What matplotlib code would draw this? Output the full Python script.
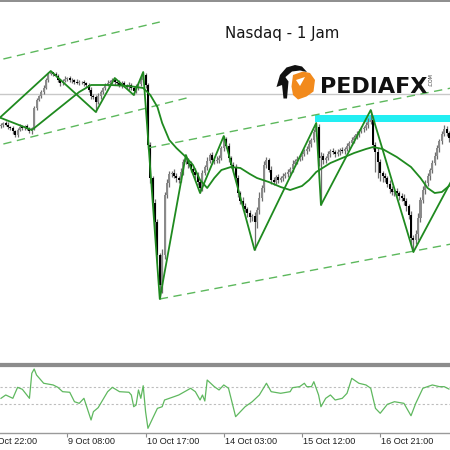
import numpy as np
import matplotlib
matplotlib.use("Agg")
import matplotlib.pyplot as plt
from matplotlib.patches import Polygon

# hourly Nasdaq closes, one per bar
closes = [24885, 24895, 24885, 24875, 24870, 24855, 24835, 24860, 24875, 24870,
          24880, 24865, 24855, 24870, 24970, 25010, 25030, 25050, 25070, 25110,
          25140, 25150, 25140, 25130, 25110, 25095, 25105, 25115, 25120, 25110,
          25110, 25100, 25095, 25100, 25100, 25095, 25085, 25060, 25030, 25025,
          25000, 25030, 25050, 25070, 25085, 25095, 25100, 25110, 25100, 25095,
          25085, 25095, 25085, 25075, 25085, 25070, 25055, 25075, 25090, 25110,
          25135, 25085, 24785, 24620, 24495, 24400, 24235, 24085, 24235, 24535,
          24595, 24640, 24645, 24630, 24620, 24610, 24650, 24700, 24710, 24690,
          24665, 24650, 24635, 24600, 24570, 24645, 24675, 24705, 24735, 24710,
          24705, 24710, 24720, 24770, 24815, 24780, 24720, 24685, 24670, 24620,
          24545, 24505, 24480, 24465, 24445, 24425, 24430, 24400, 24460, 24520,
          24570, 24685, 24710, 24660, 24610, 24600, 24625, 24610, 24620, 24630,
          24640, 24650, 24665, 24690, 24705, 24715, 24725, 24740, 24755, 24765,
          24790, 24810, 24850, 24875, 24720, 24730, 24710, 24720, 24740, 24755,
          24750, 24740, 24750, 24760, 24755, 24765, 24780, 24795, 24810, 24825,
          24840, 24855, 24865, 24870, 24885, 24900, 24910, 24785, 24750, 24700,
          24645, 24630, 24620, 24590, 24565, 24550, 24555, 24545, 24530, 24520,
          24505, 24480, 24435, 24320, 24310, 24340, 24420, 24510, 24560, 24595,
          24630, 24660, 24695, 24730, 24770, 24805, 24840, 24865, 24845, 24820]
first_open = 24880

wick_up = [10, 5, 10, 15, 5, 10, 5, 10, 15, 10, 5, 10, 10, 5, 10, 10, 5, 10, 15, 10,
           10, 5, 0, 10, 10, 5, 10, 15, 5, 10, 10, 5, 15, 10, 5, 10, 5, 10, 15, 10,
           10, 15, 10, 5, 10, 15, 10, 10, 10, 5, 15, 10, 10, 5, 15, 10, 10, 15, 10, 15,
           15, 10, 10, 15, 10, 20, 15, 10, 30, 15, 20, 15, 10, 20, 15, 10, 20, 15, 25, 10,
           15, 10, 20, 15, 10, 15, 10, 20, 10, 15, 10, 20, 15, 10, 15, 10, 15, 10, 15, 20,
           15, 10, 20, 15, 10, 15, 10, 20, 15, 30, 15, 20, 15, 10, 20, 15, 10, 15, 10, 15,
           10, 15, 10, 20, 10, 15, 10, 15, 10, 15, 20, 10, 15, 20, 15, 20, 15, 10, 15, 10,
           15, 10, 15, 10, 15, 10, 15, 10, 15, 10, 15, 10, 15, 10, 15, 20, 50, 20, 15, 20,
           15, 10, 15, 10, 20, 15, 10, 15, 10, 15, 20, 15, 10, 20, 15, 20, 25, 15, 20, 15,
           15, 10, 15, 20, 15, 10, 15, 20, 15, 10]
wick_dn = [10, 10, 5, 10, 10, 15, 10, 10, 5, 10, 10, 5, 10, 15, 10, 10, 5, 10, 10, 5,
           10, 5, 10, 5, 10, 15, 10, 5, 10, 10, 15, 10, 5, 10, 10, 15, 10, 10, 15, 10,
           50, 10, 15, 10, 10, 5, 10, 10, 15, 10, 10, 15, 10, 10, 15, 10, 20, 10, 15, 10,
           10, 15, 20, 25, 15, 60, 40, 70, 40, 20, 15, 20, 15, 10, 20, 15, 10, 15, 10, 20,
           15, 10, 20, 15, 25, 15, 10, 15, 10, 20, 15, 10, 15, 10, 15, 10, 20, 15, 20, 15,
           20, 15, 20, 15, 20, 25, 20, 140, 30, 20, 15, 20, 15, 10, 20, 15, 10, 15, 10, 15,
           10, 15, 10, 15, 10, 15, 10, 15, 10, 15, 10, 15, 10, 20, 40, 235, 20, 15, 10, 15,
           10, 15, 10, 15, 10, 15, 10, 15, 10, 15, 10, 15, 10, 15, 10, 15, 10, 20, 100, 80,
           40, 30, 20, 15, 20, 15, 20, 15, 20, 15, 20, 25, 20, 40, 60, 20, 30, 20, 15, 20,
           15, 20, 15, 10, 15, 20, 15, 10, 15, 20]

# zigzag swing points (bar, price)
zz_bars = [-8, 21, 40, 48, 56, 60, 67, 78, 84, 94, 107, 133, 135, 156, 174, 190]
zz_price = [24840, 25155, 24950, 25120, 25035, 25150, 24015, 24735, 24545, 24830,
            24260, 24895, 24485, 24960, 24250, 24605]

# smooth average line
ma_bars = [0, 13, 33, 38, 46, 54, 60, 63, 66, 68, 71, 74, 78, 81, 84, 87, 90, 93, 97,
           101, 105, 108, 113, 118, 122, 127, 130, 133, 139, 145, 149, 154, 157, 161,
           167, 173, 177, 180, 183, 186, 189]
ma_price = [24920, 24860, 25050, 25085, 25085, 25080, 25070, 25035, 24975, 24895, 24810,
            24770, 24725, 24685, 24610, 24570, 24620, 24660, 24675, 24670, 24640, 24620,
            24600, 24575, 24560, 24580, 24610, 24650, 24695, 24725, 24745, 24765, 24775,
            24765, 24725, 24675, 24620, 24570, 24545, 24550, 24580]

# trend channel lines (start/end bar, start/end price)
chan_bars = [[1, 67], [1, 80], [62, 190], [67, 190]]
chan_price = [[25215, 25400], [24790, 25025], [24770, 25070], [24015, 24290]]

level_price = 25040
zone_start = 133
zone_lo, zone_hi = 24900, 24935

# CCI sub window
cci_bars = [0, 2, 5, 7, 9, 12, 13, 14, 15, 18, 22, 24, 26, 29, 31, 33, 35, 38, 39, 41,
            45, 47, 50, 54, 55, 56, 57, 58, 59, 60, 61, 62, 64, 66, 68, 69, 73, 75, 78,
            80, 82, 84, 85, 86, 87, 90, 92, 94, 96, 99, 103, 106, 109, 112, 114, 118,
            122, 123, 126, 128, 129, 131, 132, 134, 135, 137, 139, 141, 144, 146, 148,
            151, 154, 156, 158, 160, 163, 166, 170, 173, 175, 178, 182, 185, 187, 189]
cci_vals = [-33, 6, -33, 96, 73, -33, 261, 312, 241, 144, 124, 96, 45, 38, -73, -92, -33,
            -288, -190, -143, 45, 96, 45, 38, 6, -132, -112, 65, -33, 115, -190, -386,
            -268, -151, -132, -53, -14, 6, 53, 85, 45, -53, 6, -65, 182, 104, 65, 124,
            85, -249, -132, -73, 6, 144, 45, 26, 45, 92, 104, 144, 104, 104, 162, 6,
            -132, -33, 6, -53, -33, 26, 202, 144, 124, 85, -151, -209, -104, -73, -92,
            -238, -92, 85, 124, 104, 104, 76]
cci_levels = [100, -100]

tick_bars = [-5, 28, 61, 94, 127, 160]
tick_labels = ["8 Oct 22:00", "9 Oct 08:00", "10 Oct 17:00", "14 Oct 03:00",
               "15 Oct 12:00", "16 Oct 21:00"]

GREEN = "#1f8a1f"
LIGHT_GREEN = "#5cb85c"

fig = plt.figure(figsize=(4.5, 4.5), dpi=100)
fig.patch.set_facecolor("white")

# main price window
ax = fig.add_axes([0, 1 - 364 / 450, 1, 363 / 450])
ax.set_xlim(-0.42, 189.45)
ax.set_ylim(23690, 25505)

x = np.arange(len(closes))
c = np.array(closes, dtype=float)
o = np.array([first_open] + closes[:-1], dtype=float)
hi = np.maximum(o, c) + np.array(wick_up)
lo = np.minimum(o, c) - np.array(wick_dn)

ax.axhline(level_price, color="#c8c8c8", lw=1, zorder=1)
ax.fill_between([zone_start - 0.5, 200], zone_lo, zone_hi, color="#22eef2", lw=0, zorder=1)

ax.vlines(x, lo, hi, color="#6e6e6e", lw=0.9, zorder=2)
up = c >= o
ax.bar(x[up], (c - o)[up], bottom=o[up], width=0.85, color="#8a8a8a", lw=0, zorder=2)
ax.bar(x[~up], (c - o)[~up], bottom=o[~up], width=0.85, color="#000000", lw=0, zorder=2)

for b, p in zip(chan_bars, chan_price):
    ax.plot(b, p, color=LIGHT_GREEN, lw=1, dashes=(6, 4), zorder=3)

ax.plot(ma_bars, ma_price, color=GREEN, lw=1.3, zorder=4)
ax.plot(zz_bars, zz_price, color=GREEN, lw=1.3, zorder=4)

ax.set_xticks([])
ax.set_yticks([])
for s in ["left", "right"]:
    ax.spines[s].set_visible(False)
ax.spines["top"].set_color("#7a7a7a")
ax.spines["top"].set_linewidth(1.2)
ax.spines["bottom"].set_color("#8c8c8c")
ax.spines["bottom"].set_linewidth(1.6)

# oscillator window
ax2 = fig.add_axes([0, 1 - 433 / 450, 1, 67 / 450])
ax2.set_xlim(-0.42, 189.45)
ax2.set_ylim(-441, 347)
for lv in cci_levels:
    ax2.axhline(lv, color="#bdbdbd", lw=0.8, ls=(0, (2, 2)))
ax2.plot(cci_bars, cci_vals, color="#5fb85f", lw=0.9)
ax2.set_yticks([])
ax2.set_xticks(tick_bars[1:])
ax2.set_xticklabels([])
ax2.tick_params(axis="x", length=3, width=0.8, color="#8c8c8c")
for s in ["left", "right"]:
    ax2.spines[s].set_visible(False)
ax2.spines["top"].set_color("#8c8c8c")
ax2.spines["top"].set_linewidth(1.6)
ax2.spines["bottom"].set_color("#9a9a9a")
ax2.spines["bottom"].set_linewidth(1)

for b, lab in zip(tick_bars, tick_labels):
    ax2.annotate(lab, xy=(b, 0), xycoords=ax2.get_xaxis_transform(),
                 xytext=(0.8, -2.8), textcoords="offset points",
                 ha="left", va="top", fontsize=6.6, family="Liberation Sans",
                 color="#202020", annotation_clip=False)

# overlay for title and logo (pixel coordinates)
ov = fig.add_axes([0, 0, 1, 1], zorder=10)
ov.set_xlim(0, 450)
ov.set_ylim(450, 0)
ov.axis("off")
ov.patch.set_alpha(0)

ov.text(225, 38, "Nasdaq - 1 Jam", fontsize=10.8, color="#151515", ha="left", va="baseline")

orange = [(293, 75), (303, 71.5), (310, 73), (315, 80), (313.5, 91.5), (306.5, 96.5),
          (298, 99.5), (293, 95), (291.5, 86.5)]
ov.add_patch(Polygon(orange, closed=True, fc="#f28a1c", ec="none"))
ov.add_patch(Polygon([(296, 80), (305, 77), (300, 86)], closed=True, fc="white", ec="none"))
black = [(276.5, 87), (280, 75), (286.5, 67.5), (295, 65), (302, 66.5), (307, 72),
         (300, 70.5), (292, 71.5), (285.5, 77), (282, 85)]
ov.add_patch(Polygon(black, closed=True, fc="#111111", ec="none"))
legs = [(281.5, 80), (284.5, 76), (288.5, 81.5), (287, 98.5), (283.5, 98.5)]
ov.add_patch(Polygon(legs, closed=True, fc="#111111", ec="none"))

ov.text(320, 93, "PEDIAFX", fontsize=16, fontweight="bold", color="#111111",
        ha="left", va="baseline")
ov.text(431, 80, ".COM", fontsize=3.5, color="#333333", rotation=90,
        ha="center", va="center")

fig.savefig("out.png", dpi=100)
